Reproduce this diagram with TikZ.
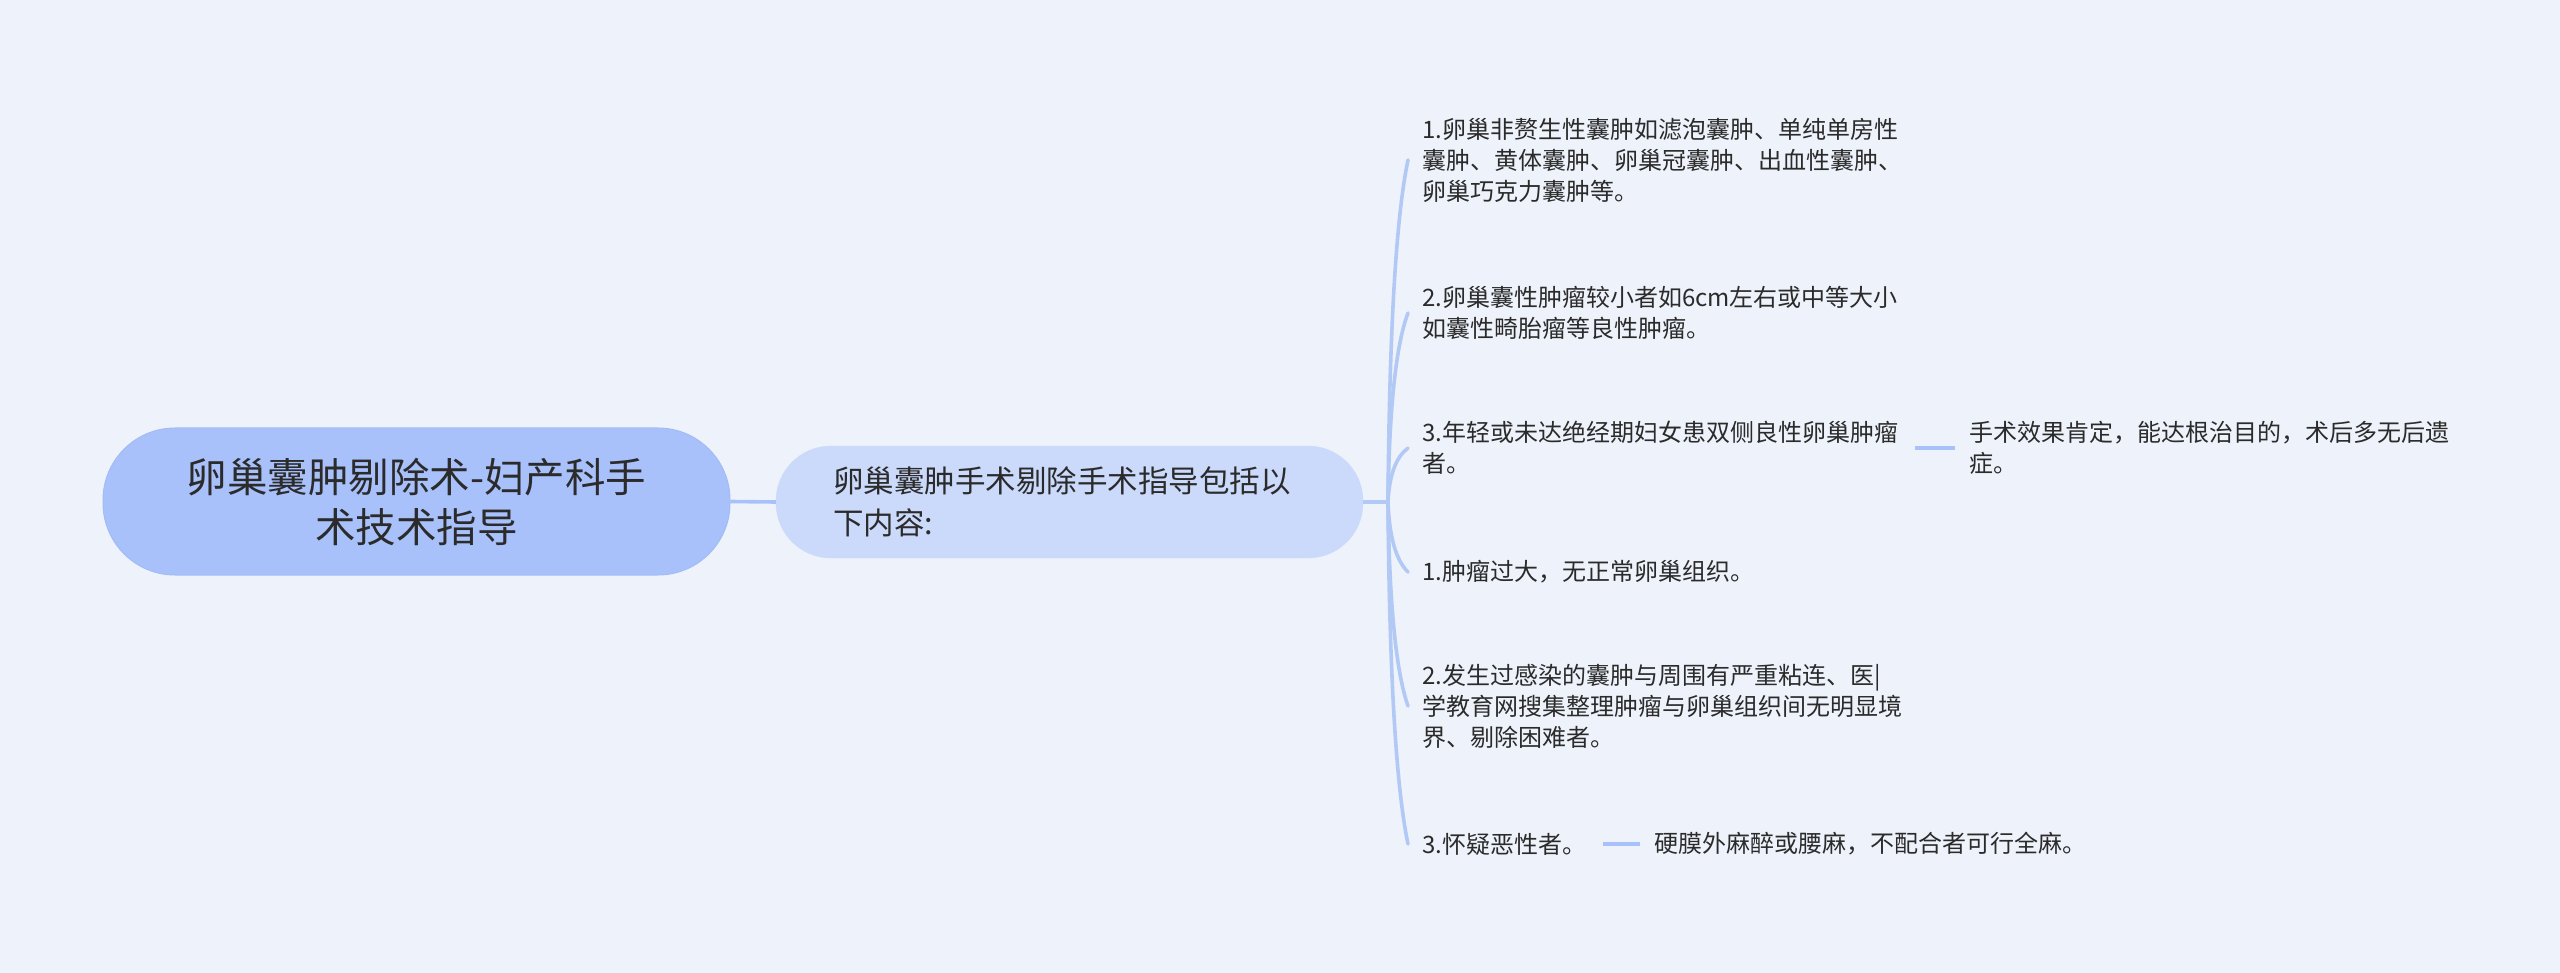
\documentclass[tikz,border=0pt]{standalone}
\usepackage{fontspec}
\setmainfont{Noto Sans CJK SC}
\definecolor{bgc}{HTML}{EEF3FB}
\definecolor{rootc}{HTML}{A9C1FB}
\definecolor{rootb}{HTML}{A3BCF6}
\definecolor{midc}{HTML}{CBDAFA}
\definecolor{linec}{HTML}{B2C8F5}
\definecolor{linec2}{HTML}{A9C1FB}
\definecolor{txtc}{HTML}{2B2B2B}
\begin{document}
\begin{tikzpicture}[x=1pt,y=-1pt,
  rootbox/.style={fill=rootc,draw=rootb,line width=1pt,rounded corners=72pt,minimum width=627pt,minimum height=147pt,align=center,text=txtc,font=\fontsize{40.5}{50}\selectfont,inner sep=0pt},
  midbox/.style={fill=midc,draw=midc,rounded corners=55pt,minimum height=112pt,text width=473pt,inner xsep=57pt,inner ysep=0pt,align=left,text=txtc,font=\fontsize{30.5}{42}\selectfont},
  leafbox/.style={anchor=west,align=left,text=txtc,inner xsep=14pt,inner ysep=2pt,font=\fontsize{24}{31}\selectfont},
  conn/.style={draw=linec,line width=3.6pt},
  thickconn/.style={draw=linec2,line width=3.6pt},
  subconn/.style={draw=linec2,line width=3.4pt}]
\fill[bgc] (0,0) rectangle (2560,973);
\useasboundingbox (0,0) rectangle (2560,973);

\node[rootbox] (root) at (416.5,501.5) {卵巢囊肿剔除术-妇产科手\\术技术指导};
\node[midbox] (mid) at (1069.5,502) {卵巢囊肿手术剔除手术指导包括以\\下内容:};

\node[leafbox] (l1) at (1408,160) {1.卵巢非赘生性囊肿如滤泡囊肿、单纯单房性\\囊肿、黄体囊肿、卵巢冠囊肿、出血性囊肿、\\卵巢巧克力囊肿等。};
\node[leafbox] (l2) at (1408,313) {2.卵巢囊性肿瘤较小者如6cm左右或中等大小\\如囊性畸胎瘤等良性肿瘤。};
\node[leafbox] (l3) at (1408,448) {3.年轻或未达绝经期妇女患双侧良性卵巢肿瘤\\者。};
\node[leafbox] (l4) at (1408,572) {1.肿瘤过大，无正常卵巢组织。};
\node[leafbox] (l5) at (1408,706) {2.发生过感染的囊肿与周围有严重粘连、医|\\学教育网搜集整理肿瘤与卵巢组织间无明显境\\界、剔除困难者。};
\node[leafbox] (l6) at (1408,844) {3.怀疑恶性者。};

\node[leafbox] (c3) at (1955,448) {手术效果肯定，能达根治目的，术后多无后遗\\症。};
\node[leafbox] (c6) at (1640,844) {硬膜外麻醉或腰麻，不配合者可行全麻。};

\coordinate (br) at (1388,502);

\draw[thickconn] (root.east) -- (mid.west);
\draw[conn] (mid.east) -- (br);
\foreach \n/\yy in {l1/160,l2/313,l3/448,l4/572,l5/706,l6/844}{
  \pgfmathsetmacro{\ca}{502+2/3*(\yy+0.25*(502-\yy)-502)}
  \pgfmathsetmacro{\cb}{\yy+2/3*0.25*(502-\yy)}
  \draw[conn,line cap=round] (br) .. controls (1389.3,\ca) and (1396,\cb) .. (\n.west);
}
\draw[subconn] ([xshift=3pt]l3.east) -- (c3.west);
\draw[subconn] ([xshift=3pt]l6.east) -- (c6.west);
\end{tikzpicture}
\end{document}
